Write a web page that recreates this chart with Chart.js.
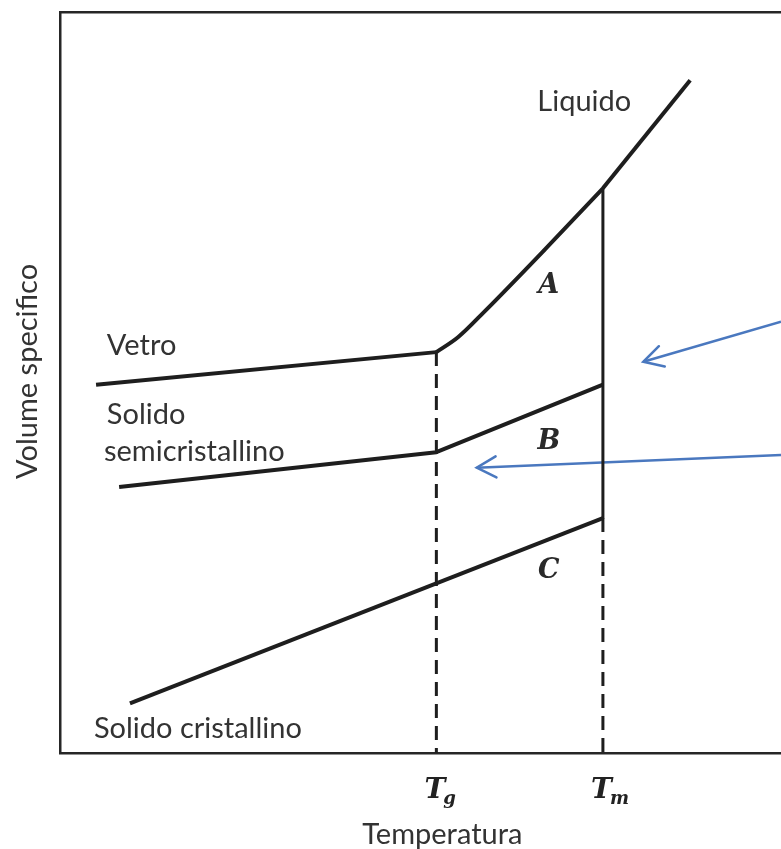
<!DOCTYPE html>
<html>
<head>
<meta charset="utf-8">
<script src="https://cdn.jsdelivr.net/npm/chart.js@4/dist/chart.umd.min.js"></script>
<style>
html, body { margin: 0; padding: 0; background: #fff; }
</style>
</head>
<body>
<canvas id="chart" width="781" height="849"></canvas>
<script>
// temperature marks on the x axis
var Tg = 52.2, Tm = 75.3;
var tickValues = [Tg, Tm];
var tickNames = ['T', 'T'];
var tickSubs = ['g', 'm'];

// curves (x = temperatura, y = volume specifico, arbitrary units)
var vetroX = [5.0, Tg];
var vetroY = [49.7, 54.1];
var curveAX = [Tg, 55.2, 58.9, 67.3, Tm];
var curveAY = [54.1, 56.1, 59.6, 68.0, 76.2];
var liquidoX = [Tm, 87.4];
var liquidoY = [76.2, 90.8];
var semiX = [8.2, Tg, Tm];
var semiY = [35.9, 40.6, 49.7];
var crisX = [9.7, Tm];
var crisY = [6.7, 31.7];
var meltX = [Tm, Tm];
var meltY = [76.2, 31.7];
var tgLineX = [Tg, Tg];
var tgLineY = [54.1, 0];
var tmLineX = [Tm, Tm];
var tmLineY = [31.7, 0];
var arrow1X = [100, 80.9];
var arrow1Y = [58.2, 52.8];
var arrow2X = [100, 57.8];
var arrow2Y = [40.2, 38.5];

// annotations (anchored in data units)
var noteText = ['Liquido', 'Vetro', 'Solido', 'semicristallino', 'Solido cristallino'];
var noteX = [66.2, 6.5, 6.5, 6.1, 4.7];
var noteY = [87.9, 55.0, 45.6, 40.7, 3.3];
var curveNames = ['A', 'B', 'C'];
var curveNameX = [67.8, 67.8, 67.8];
var curveNameY = [63.0, 42.0, 24.6];

var xTitle = 'Temperatura';
var yTitle = 'Volume specifico';

function pts(xs, ys) {
  return xs.map(function (x, i) { return { x: x, y: ys[i] }; });
}

function line(xs, ys, color, width, dash, smooth) {
  return {
    data: pts(xs, ys),
    showLine: true,
    borderColor: color,
    backgroundColor: color,
    borderWidth: width,
    borderDash: dash || [],
    pointRadius: 0,
    tension: smooth ? 0.4 : 0,
    cubicInterpolationMode: smooth ? 'monotone' : 'default',
    borderCapStyle: 'butt',
    borderJoinStyle: 'round'
  };
}

var INK = '#1e1e1e';
var BLUE = '#4a78bf';
var TEXT = '#333333';
var ARROWS = [8, 9];

var annotations = {
  id: 'annotations',
  afterDatasetsDraw: function (chart) {
    var ctx = chart.ctx;
    var xs = chart.scales.x, ys = chart.scales.y;
    ctx.save();

    // arrow heads
    ARROWS.forEach(function (idx) {
      var d = chart.getDatasetMeta(idx).data;
      var p0 = d[0], p1 = d[d.length - 1];
      var a = Math.atan2(p0.y - p1.y, p0.x - p1.x);
      ctx.strokeStyle = BLUE;
      ctx.lineWidth = 2.5;
      ctx.lineCap = 'round';
      ctx.beginPath();
      ctx.moveTo(p1.x + 22 * Math.cos(a - 0.5), p1.y + 22 * Math.sin(a - 0.5));
      ctx.lineTo(p1.x, p1.y);
      ctx.lineTo(p1.x + 22 * Math.cos(a + 0.5), p1.y + 22 * Math.sin(a + 0.5));
      ctx.stroke();
    });

    // text labels
    ctx.fillStyle = TEXT;
    ctx.font = '29px Lato';
    ctx.textAlign = 'left';
    ctx.textBaseline = 'middle';
    noteText.forEach(function (t, i) {
      ctx.fillText(t, xs.getPixelForValue(noteX[i]), ys.getPixelForValue(noteY[i]));
    });

    ctx.fillStyle = '#2a2a2a';
    ctx.font = 'italic bold 27px "DejaVu Serif"';
    ctx.textAlign = 'center';
    curveNames.forEach(function (t, i) {
      ctx.fillText(t, xs.getPixelForValue(curveNameX[i]), ys.getPixelForValue(curveNameY[i]));
    });

    // Tg / Tm tick labels
    var base = chart.chartArea.bottom;
    ctx.fillStyle = '#222';
    tickValues.forEach(function (v, i) {
      var px = xs.getPixelForValue(v);
      ctx.font = 'italic bold 28px "DejaVu Serif"';
      ctx.textAlign = 'right';
      ctx.textBaseline = 'alphabetic';
      ctx.fillText(tickNames[i], px + 9, base + 45);
      ctx.font = 'italic bold 18px "DejaVu Serif"';
      ctx.textAlign = 'left';
      ctx.fillText(tickSubs[i], px + 7, base + 51);
    });

    // axis titles
    ctx.fillStyle = TEXT;
    ctx.font = '29px Lato';
    ctx.textAlign = 'center';
    ctx.textBaseline = 'middle';
    ctx.fillText(xTitle, xs.getPixelForValue(Tg) + 6, base + 82);
    ctx.translate(28, ys.getPixelForValue(51.5));
    ctx.rotate(-Math.PI / 2);
    ctx.fillText(yTitle, 0, 0);
    ctx.restore();
  }
};

var axisStyle = {
  min: 0,
  max: 100,
  grid: { display: false, drawTicks: false },
  ticks: { display: false },
  border: { display: true, color: '#262626', width: 2.5 }
};

new Chart(document.getElementById('chart'), {
  type: 'scatter',
  data: {
    datasets: [
      line(vetroX, vetroY, INK, 4),
      line(curveAX, curveAY, INK, 4, null, true),
      line(liquidoX, liquidoY, INK, 4),
      line(semiX, semiY, INK, 4),
      line(crisX, crisY, INK, 4),
      line(meltX, meltY, INK, 3),
      line(tgLineX, tgLineY, INK, 3, [14, 8]),
      line(tmLineX, tmLineY, INK, 3, [14, 8]),
      line(arrow1X, arrow1Y, BLUE, 2.5),
      line(arrow2X, arrow2Y, BLUE, 2.5)
    ]
  },
  options: {
    responsive: false,
    animation: false,
    layout: { padding: { left: 60, top: 12, right: 0, bottom: 96 } },
    plugins: { legend: { display: false }, tooltip: { enabled: false } },
    scales: {
      x: Object.assign({ type: 'linear', position: 'bottom' }, axisStyle),
      xTop: Object.assign({ type: 'linear', position: 'top', axis: 'x' }, axisStyle),
      y: Object.assign({ type: 'linear', position: 'left' }, axisStyle)
    }
  },
  plugins: [annotations]
});
</script>
</body>
</html>
